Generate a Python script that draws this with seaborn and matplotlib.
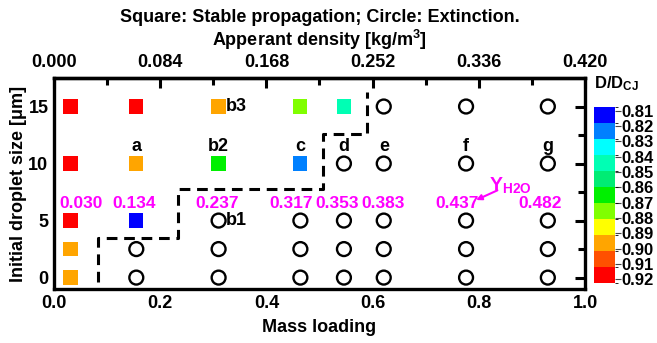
import numpy as np
import pandas as pd
import matplotlib
matplotlib.use("Agg")
import matplotlib.pyplot as plt
import matplotlib.colors as mcolors
import matplotlib.cm as cm
import seaborn as sns

# ---------------- data ----------------
# stable propagation (squares)
sq_ml = [0.031, 0.031, 0.031, 0.031, 0.031, 0.155, 0.155, 0.155, 0.31, 0.31, 0.464, 0.464, 0.546]
sq_d = [0, 2.5, 5, 10, 15, 5, 10, 15, 10, 15, 10, 15, 15]
sq_val = [0.895, 0.895, 0.918, 0.918, 0.918, 0.812, 0.895, 0.918, 0.865, 0.895, 0.822, 0.875, 0.845]

# extinction (circles)
ex_ml = [0.155, 0.155,
         0.31, 0.31, 0.31,
         0.464, 0.464, 0.464,
         0.546, 0.546, 0.546, 0.546,
         0.621, 0.621, 0.621, 0.621, 0.621,
         0.776, 0.776, 0.776, 0.776, 0.776,
         0.93, 0.93, 0.93, 0.93, 0.93]
ex_d = [0, 2.5,
        0, 2.5, 5,
        0, 2.5, 5,
        0, 2.5, 5, 10,
        0, 2.5, 5, 10, 15,
        0, 2.5, 5, 10, 15,
        0, 2.5, 5, 10, 15]

# boundary (dashed staircase)
bnd_ml = [0.083, 0.083, 0.234, 0.234, 0.507, 0.507, 0.59, 0.59]
bnd_d = [-0.4, 3.5, 3.5, 7.75, 7.75, 12.6, 12.6, 16.3]

# Y_H2O labels
yh2o_labels = ["0.030", "0.134", "0.237", "0.317", "0.353", "0.383", "0.437", "0.482"]
yh2o_x = [0.051, 0.151, 0.307, 0.446, 0.533, 0.620, 0.759, 0.915]

# case labels
case_labels = ["a", "b2", "c", "d", "e", "f", "g"]
case_x = [0.155, 0.31, 0.464, 0.546, 0.621, 0.776, 0.93]

cbar_colors = ['#0000FF', '#0080FF', '#00FFFF', '#00FFB4', '#00EC74', '#00F000',
               '#80FF00', '#FFFF00', '#FFA500', '#FF5000', '#FF0000']
cbar_ticks = [0.81, 0.82, 0.83, 0.84, 0.85, 0.86, 0.87, 0.88, 0.89, 0.90, 0.91, 0.92]
top_ticks = [0.000, 0.084, 0.168, 0.252, 0.336, 0.420]

# ---------------- style ----------------
sns.set_style("white")
plt.rcParams['font.family'] = ['Liberation Sans', 'DejaVu Sans']
plt.rcParams['font.weight'] = 'bold'
plt.rcParams['mathtext.fontset'] = 'custom'
plt.rcParams['mathtext.rm'] = 'Liberation Sans:bold'
plt.rcParams['mathtext.bf'] = 'Liberation Sans:bold'
plt.rcParams['mathtext.default'] = 'bf'
for k in ['text.color', 'axes.labelcolor', 'xtick.color', 'ytick.color', 'axes.edgecolor']:
    plt.rcParams[k] = 'black'

FS = 13
fig = plt.figure(figsize=(6.57, 3.43), dpi=100)
ax = fig.add_axes([54/657, (343-289)/343, (585-54)/657, (289-78)/343])

cmap = mcolors.ListedColormap(cbar_colors)
bounds = np.linspace(0.8075, 0.9225, 12)
norm = mcolors.BoundaryNorm(bounds, cmap.N)

sq_df = pd.DataFrame({"ml": sq_ml, "d": sq_d, "val": sq_val})
pal = {v: cmap(norm(v)) for v in sorted(set(sq_val))}
sns.scatterplot(data=sq_df, x="ml", y="d", hue="val", palette=pal, marker="s",
                s=105, linewidth=0, legend=False, ax=ax, zorder=3)

ex_df = pd.DataFrame({"ml": ex_ml, "d": ex_d})
sns.scatterplot(data=ex_df, x="ml", y="d", marker="o", s=100, facecolor="none",
                edgecolor="black", linewidth=1.7, legend=False, ax=ax, zorder=3)

bnd_df = pd.DataFrame({"ml": bnd_ml, "d": bnd_d})
sns.lineplot(data=bnd_df, x="ml", y="d", sort=False, estimator=None, color="black",
             linewidth=2.2, ax=ax, zorder=2)
ax.lines[-1].set_dashes((3.5, 2.2))

ax.set_xlim(0, 1.0)
ax.set_ylim(-1, 17.5)
ax.set_xticks([0, 0.2, 0.4, 0.6, 0.8, 1.0])
ax.set_xticks([0.1, 0.3, 0.5, 0.7, 0.9], minor=True)
ax.set_xticklabels(["0.0", "0.2", "0.4", "0.6", "0.8", "1.0"])
ax.set_yticks([0, 5, 10, 15])
ax.set_yticks([2.5, 7.5, 12.5], minor=True)
ax.tick_params(which="both", direction="in", width=2.2, labelsize=FS,
               top=False, right=True, pad=4)
ax.tick_params(which="major", length=7)
ax.tick_params(which="minor", length=5)
for sp in ax.spines.values():
    sp.set_linewidth(2.4)
    sp.set_color("black")
ax.set_xlabel("Mass loading", fontsize=FS, fontweight="bold", labelpad=5)
ax.set_ylabel("Initial droplet size [μm]", fontsize=FS, fontweight="bold", labelpad=1)

sec = ax.secondary_xaxis('top', functions=(lambda x: x * 0.42, lambda x: x / 0.42))
sec.set_xticks(top_ticks)
sec.set_xticks([0.042, 0.126, 0.210, 0.294, 0.378], minor=True)
sec.set_xticklabels([f"{t:.3f}" for t in top_ticks])
sec.tick_params(which="both", direction="in", width=2.2, labelsize=FS, pad=5)
sec.tick_params(which="major", length=7)
sec.tick_params(which="minor", length=5)
sec.spines['top'].set_linewidth(2.4)
sec.set_xlabel("Apperant density [kg/m$^{3}$]", fontsize=FS, fontweight="bold", labelpad=6)

fig.text(0.5 * (54 + 585) / 657, 1 - 18/343, "Square: Stable propagation; Circle: Extinction.",
         ha="center", va="center", fontsize=FS, fontweight="bold")

# annotations
for lab, x in zip(yh2o_labels, yh2o_x):
    ax.text(x, 6.5, lab, color="#FF00FF", fontsize=12.5, fontweight="bold",
            ha="center", va="center", zorder=4)
for lab, x in zip(case_labels, case_x):
    ax.text(x, 11.5, lab, color="black", fontsize=FS, fontweight="bold",
            ha="center", va="center", zorder=4)
ax.text(0.324, 15, "b3", fontsize=FS, fontweight="bold", ha="left", va="center")
ax.text(0.324, 5, "b1", fontsize=FS, fontweight="bold", ha="left", va="center")
ax.text(0.820, 8.1, "Y$_{\\mathbf{H2O}}$", color="#FF00FF", fontsize=FS + 1,
        fontweight="bold", ha="left", va="center")
ax.annotate("", xy=(0.795, 6.8), xytext=(0.835, 7.65),
            arrowprops=dict(arrowstyle="-|>", color="#FF00FF", lw=1.5,
                            shrinkA=0, shrinkB=0, mutation_scale=8))

# colorbar
cax = fig.add_axes([594/657, (343-283)/343, 21/657, 176/343])
cb = fig.colorbar(cm.ScalarMappable(norm=norm, cmap=cmap), cax=cax,
                  boundaries=bounds, ticks=cbar_ticks, spacing="proportional")
cax.invert_yaxis()
cb.outline.set_visible(False)
cax.set_yticklabels([f"{t:.2f}" for t in cbar_ticks])
cax.tick_params(direction="out", length=4, width=0.8, labelsize=FS - 1, pad=0.5,
                color="#444444")
cax.text(0.0, 1.08, "D/D$_{\\mathbf{CJ}}$", transform=cax.transAxes, fontsize=FS - 1,
         fontweight="bold", ha="left", va="bottom")

fig.savefig("out.png", dpi=100)
